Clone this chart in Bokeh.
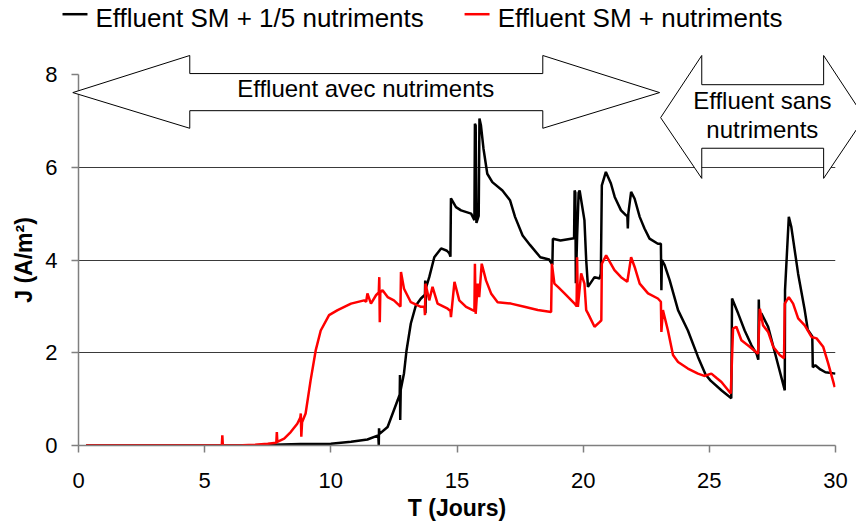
from bokeh.plotting import figure
from bokeh.models import Range1d, FixedTicker, Label, ColumnDataSource
from bokeh.core.properties import value
from bokeh.embed import file_html
from bokeh.resources import INLINE

# ---------------- data ----------------
x_ticks = [0, 5, 10, 15, 20, 25, 30]
y_ticks = [0, 2, 4, 6, 8]

series_names = ["Effluent SM + 1/5 nutriments", "Effluent SM + nutriments"]
series_colors = ["black", "#ff0000"]

black_t = [0.3, 5.0, 7.0, 8.8, 10.0, 10.8, 11.45, 11.88, 11.9, 11.91, 11.93, 12.25, 12.65,
           12.73, 12.74, 12.75, 12.77, 12.9, 13.0, 13.17, 13.37, 13.57, 13.73, 13.74, 13.75,
           13.77, 13.9, 14.1, 14.37, 14.6, 14.7, 14.74, 14.76, 14.96, 15.16, 15.56, 15.69,
           15.71, 15.74, 15.77, 15.86, 15.89, 15.95, 16.05, 16.2, 16.4, 16.8, 17.1, 17.3,
           17.6, 17.9, 18.3, 18.65, 18.78, 18.8, 19.1, 19.64, 19.66, 19.69, 19.71, 19.76,
           19.82, 19.86, 20.05, 20.12, 20.19, 20.45, 20.65, 20.7, 20.74, 20.9, 21.1, 21.25,
           21.5, 21.7, 21.75, 21.77, 21.79, 21.9, 22.04, 22.24, 22.43, 22.63, 22.96, 23.08,
           23.1, 23.12, 23.23, 23.43, 23.76, 24.15, 24.55, 24.85, 25.05, 25.5, 25.87, 25.9,
           26.14, 26.4, 26.67, 26.87, 26.94, 26.96, 26.98, 27.06, 27.33, 27.99, 28.0, 28.15,
           28.25, 28.52, 28.78, 28.9, 29.08, 29.1, 29.2, 29.4, 29.6, 30.0]
black_j = [0.0, 0.0, 0.005, 0.03, 0.04, 0.08, 0.13, 0.22, 0.0, 0.37, 0.25, 0.4, 0.98,
           1.1, 1.52, 0.55, 1.2, 1.56, 2.05, 2.63, 3.02, 3.17, 3.25, 3.56, 2.85,
           3.4, 3.63, 4.06, 4.25, 4.2, 4.14, 4.07, 5.33, 5.14, 5.07, 5.0, 4.86,
           6.94, 6.9, 4.8, 4.95, 7.05, 6.9, 6.4, 5.86, 5.68, 5.5, 5.29, 4.93,
           4.53, 4.32, 4.06, 4.01, 3.9, 4.46, 4.42, 4.47, 5.5, 5.45, 3.5, 4.5,
           5.45, 5.5, 4.86, 4.0, 3.42, 3.63, 3.6, 3.7, 5.61, 5.9, 5.65, 5.36,
           5.07, 4.96, 4.96, 4.68, 5.0, 5.47, 5.32, 4.93, 4.68, 4.46, 4.35, 4.35,
           3.35, 4.0, 3.89, 3.56, 2.92, 2.48, 1.91, 1.53, 1.4, 1.18, 1.02, 3.17,
           2.85, 2.48, 2.16, 1.98, 1.85, 3.15, 2.7, 2.85, 2.56, 1.19, 3.35, 4.93,
           4.71, 3.7, 2.92, 2.5, 2.35, 1.69, 1.73, 1.64, 1.58, 1.55]

red_t = [0.3, 5.68, 5.7, 5.72, 6.5, 7.0, 7.5, 7.84, 7.86, 7.88, 8.15, 8.41, 8.67, 8.79,
         8.81, 8.83, 8.86, 9.0, 9.2, 9.4, 9.6, 9.93, 10.27, 10.8, 11.32, 11.4, 11.45, 11.59,
         11.79, 11.9, 11.92, 11.94, 11.96, 12.05, 12.25, 12.5, 12.71, 12.76, 12.78, 12.9,
         13.17, 13.57, 13.71, 13.73, 13.75, 13.9, 14.03, 14.23, 14.63, 14.74, 14.76, 14.9,
         15.09, 15.36, 15.62, 15.69, 15.71, 15.74, 15.82, 15.88, 15.98, 16.15, 16.35, 16.61,
         17.14, 17.67, 18.2, 18.73, 18.76, 18.86, 19.0, 19.26, 19.66, 19.74, 19.76, 19.79,
         19.92, 20.05, 20.12, 20.19, 20.45, 20.65, 20.72, 20.74, 20.91, 21.24, 21.5, 21.75,
         21.9, 22.04, 22.24, 22.57, 22.96, 23.08, 23.1, 23.16, 23.36, 23.56, 23.76, 24.15,
         24.55, 24.8, 25.08, 25.3, 25.48, 25.85, 25.94, 26.07, 26.27, 26.6, 26.93, 27.0,
         27.13, 27.33, 27.53, 27.79, 27.96, 27.99, 28.15, 28.32, 28.52, 28.78, 29.05, 29.25,
         29.51, 29.71, 29.97]
red_j = [0.0, 0.0, 0.22, 0.0, 0.005, 0.015, 0.04, 0.06, 0.29, 0.08, 0.15, 0.29, 0.47, 0.6,
         0.69, 0.19, 0.5, 0.69, 1.41, 2.05, 2.48, 2.81, 2.92, 3.06, 3.13, 3.1, 3.28, 3.06,
         3.24, 3.3, 3.63, 2.66, 3.3, 3.35, 3.2, 3.13, 3.02, 3.0, 3.74, 3.38,
         3.09, 2.99, 2.99, 2.81, 3.49, 3.13, 3.42, 3.06, 2.95, 2.9, 2.77, 3.53,
         3.13, 2.99, 2.92, 2.9, 3.92, 2.84, 3.49, 3.2, 3.92, 3.56, 3.28, 3.09,
         3.06, 2.99, 2.92, 2.88, 3.92, 3.49, 3.42, 3.28, 3.06, 3.0, 4.06, 2.99,
         3.71, 3.49, 2.92, 2.85, 2.56, 2.66, 2.7, 3.92, 4.1, 3.78, 3.63, 3.53,
         4.06, 3.85, 3.49, 3.28, 3.17, 3.1, 2.45, 2.92, 2.48, 1.95, 1.8, 1.66,
         1.55, 1.5, 1.55, 1.45, 1.37, 1.12, 2.52, 2.56, 2.27, 2.13, 1.98, 2.95,
         2.59, 2.45, 2.13, 1.95, 1.88, 3.06, 3.2, 3.06, 2.74, 2.59, 2.34, 2.31,
         2.13, 1.77, 1.26]

arrow1_text = "Effluent avec nutriments"
arrow2_text = ["Effluent sans", "nutriments"]
x_title = "T (Jours)"
y_title = "J (A/m²)"

FONT = "Liberation Sans"

# ---------------- figure ----------------
p = figure(width=856, height=524,
           x_range=Range1d(x_ticks[0], x_ticks[-1]),
           y_range=Range1d(y_ticks[0], y_ticks[-1]),
           output_backend="svg", toolbar_location=None,
           min_border_left=78, min_border_right=21,
           min_border_top=74, min_border_bottom=79)
p.outline_line_color = None
p.background_fill_color = "white"
p.border_fill_color = "white"

p.xgrid.visible = False
p.ygrid.ticker = FixedTicker(ticks=y_ticks[1:])
p.ygrid.grid_line_color = "#3a3a3a"
p.ygrid.grid_line_width = 1

for ax in (p.xaxis[0], p.yaxis[0]):
    ax.axis_line_color = "#7f7f7f"
    ax.axis_line_width = 1.5
    ax.major_tick_line_color = "#7f7f7f"
    ax.major_tick_line_width = 1.5
    ax.major_tick_out = 7
    ax.major_tick_in = 0
    ax.minor_tick_out = 0
    ax.minor_tick_in = 0
    ax.major_label_text_font = FONT
    ax.major_label_text_font_size = "22px"
    ax.major_label_text_color = "black"
    ax.axis_label_text_font = FONT
    ax.axis_label_text_font_style = "bold"
    ax.axis_label_text_font_size = "23px"
    ax.axis_label_text_color = "black"

p.xaxis.ticker = FixedTicker(ticks=x_ticks)
p.yaxis.ticker = FixedTicker(ticks=y_ticks)
p.xaxis.axis_label = x_title
p.yaxis.axis_label = y_title
p.yaxis.major_label_standoff = 14
p.xaxis.major_label_standoff = 20
p.yaxis.axis_label_standoff = 5
p.xaxis.axis_label_standoff = 4

src_b = ColumnDataSource(dict(t=black_t, j=black_j))
src_r = ColumnDataSource(dict(t=red_t, j=red_j))
r_black = p.line("t", "j", source=src_b, line_color=series_colors[0], line_width=2.5)
r_red = p.line("t", "j", source=src_r, line_color=series_colors[1], line_width=2.5)

# ---------------- double arrows (decorations) ----------------
a1_x = [-0.226, 4.41, 4.41, 18.40, 18.40, 23.03, 18.40, 18.40, 4.41, 4.41]
a1_y = [7.61, 8.41, 8.02, 8.02, 8.41, 7.61, 6.84, 7.22, 7.22, 6.84]
a2_x = [23.07, 24.70, 24.70, 29.53, 29.53, 31.15, 29.53, 29.53, 24.70, 24.70]
a2_y = [7.07, 8.41, 7.78, 7.78, 8.41, 7.07, 5.76, 6.41, 6.41, 5.76]
for ax_, ay_ in ((a1_x, a1_y), (a2_x, a2_y)):
    p.patch(ax_, ay_, fill_color="white", line_color="black", line_width=1, level="overlay")

lab_kw = dict(text_font=FONT, text_font_size="24px", text_color="black",
              text_align="center", text_baseline="alphabetic", level="overlay")
p.add_layout(Label(x=11.38, y=7.70, text=arrow1_text, **lab_kw))
p.add_layout(Label(x=27.10, y=7.43, text=arrow2_text[0], **lab_kw))
p.add_layout(Label(x=27.10, y=6.82, text=arrow2_text[1], **lab_kw))

# ---------------- legend (drawn above the plot area) ----------------
key_x0 = [-0.634, 15.30]
key_len = 0.99
key_y = 9.30
lab_x = [0.674, 16.61]
lab_y = 9.21
for i in range(2):
    p.line([key_x0[i], key_x0[i] + key_len], [key_y, key_y],
           line_color=series_colors[i], line_width=2.5, level="overlay")
p.text(x=lab_x, y=[lab_y, lab_y], text=series_names,
       text_font=value(FONT), text_font_size="26px", text_color="black",
       text_align="left", text_baseline="alphabetic", level="overlay")

open("out.html", "w").write(file_html(p, INLINE))
